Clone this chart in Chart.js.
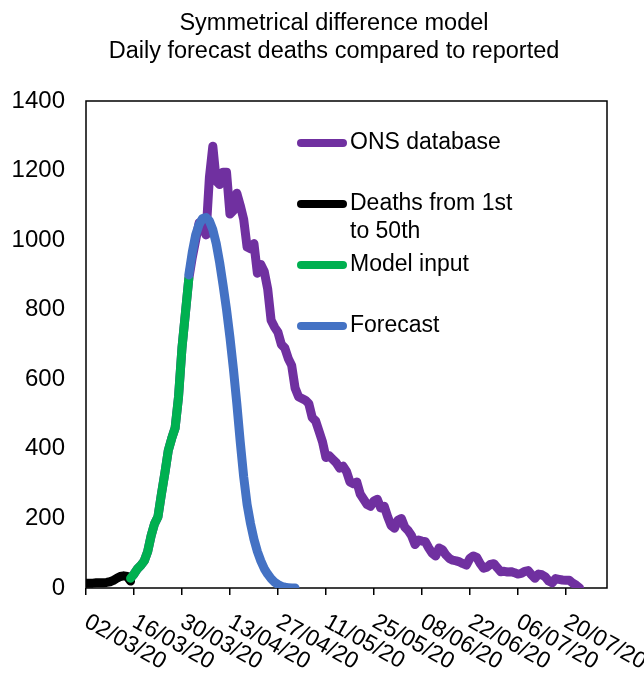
<!DOCTYPE html>
<html>
<head>
<meta charset="utf-8">
<script src="https://cdn.jsdelivr.net/npm/chart.js@4.4.1/dist/chart.umd.min.js"></script>
<style>
  body { margin: 0; background: #fff; }
</style>
</head>
<body>
<canvas id="myChart" width="644" height="673"></canvas>
<script>
var titleLines = ['Symmetrical difference model', 'Daily forecast deaths compared to reported'];
var tickLabels = ['02/03/20', '16/03/20', '30/03/20', '13/04/20', '27/04/20', '11/05/20',
                  '25/05/20', '08/06/20', '22/06/20', '06/07/20', '20/07/20'];
var axisEnd = '01/08/20';

// daily deaths, each series starts on the given date
var onsStart = '15/03/20';
var onsDeaths = [
  28, 40, 55, 65, 78, 105, 150, 185, 205, 270, 330, 395, 430, 460, 550, 690, 790, 890,
  950, 1000, 1050, 1040, 1015, 1180, 1270, 1170, 1160, 1195,
  1195, 1075, 1085, 1135, 1100, 1060, 980, 975, 990, 905,
  930, 910, 860, 770, 750, 735, 700, 690, 660, 640,
  575, 550, 545, 540, 530, 490, 480, 450, 420, 375,
  380, 370, 360, 345, 350, 335, 305, 300, 305, 270,
  255, 240, 235, 250, 255, 230, 235, 205, 180, 172,
  195, 200, 175, 165, 150, 125, 138, 135, 133, 115,
  100, 92, 115, 110, 95, 85, 80, 78, 75, 70,
  66, 85, 92, 88, 70, 57, 60, 68, 70, 58,
  47, 48, 46, 47, 44, 40, 42, 48, 50, 38,
  28, 40, 38, 32, 20, 15, 27, 25, 23, 22,
  22, 14, 8, 0
];
var firstStart = '02/03/20';
var firstDeaths = [14, 14, 14, 15, 15, 15, 16, 18, 22, 28, 33, 35, 33, 20];
var inputStart = '15/03/20';
var inputDeaths = [28, 40, 55, 65, 78, 105, 150, 185, 205, 270, 330, 395, 430, 460, 550, 690, 790, 890];
var forecastStart = '01/04/20';
var forecastDeaths = [
  900, 965, 1015, 1045, 1062, 1065, 1055, 1030, 990, 935,
  870, 800, 720, 630, 530, 420, 320, 240, 185, 140,
  105, 78, 56, 40, 27, 17, 10, 5, 2, 1, 0, 0
];
var legendLines = [['ONS database'], ['Deaths from 1st', 'to 50th'], ['Model input'], ['Forecast']];

var FONT = '"Liberation Sans", Arial, sans-serif';

function dayOf(s) {
  var p = s.split('/');
  var d = new Date(2000 + Number(p[2]), Number(p[1]) - 1, Number(p[0]));
  return Math.round((d - new Date(2020, 2, 2)) / 86400000);
}

function points(start, vals) {
  var s = dayOf(start);
  return vals.map(function (v, i) { return { x: s + i, y: v }; });
}

var chartDecor = {
  id: 'chartDecor',
  beforeDatasetsDraw: function (chart) {
    var ctx = chart.ctx, a = chart.chartArea;
    ctx.save();
    ctx.strokeStyle = '#000';
    ctx.lineWidth = 1.5;
    ctx.strokeRect(a.left, a.top, a.right - a.left, a.bottom - a.top);
    ctx.restore();
  },
  afterDraw: function (chart) {
    var ctx = chart.ctx, a = chart.chartArea;
    var xs = chart.scales.x;
    ctx.save();
    ctx.fillStyle = '#000';

    // title
    ctx.font = '23.5px ' + FONT;
    ctx.textAlign = 'center';
    ctx.textBaseline = 'alphabetic';
    ctx.fillText(titleLines[0], 334, 30);
    ctx.fillText(titleLines[1], 334, 58);

    // rotated date labels
    ctx.font = '23px ' + FONT;
    ctx.textAlign = 'left';
    tickLabels.forEach(function (l) {
      var x = xs.getPixelForValue(dayOf(l));
      ctx.save();
      ctx.translate(x - 3, a.bottom + 38);
      ctx.rotate(29 * Math.PI / 180);
      ctx.fillText(l, 0, 0);
      ctx.restore();
    });

    // legend
    var rows = [143, 204, 265, 326];
    chart.data.datasets.forEach(function (ds, i) {
      var y = rows[i];
      ctx.strokeStyle = ds.borderColor;
      ctx.lineWidth = 8;
      ctx.lineCap = 'round';
      ctx.beginPath();
      ctx.moveTo(301, y);
      ctx.lineTo(343, y);
      ctx.stroke();
      ctx.textBaseline = 'middle';
      legendLines[i].forEach(function (t, j) {
        ctx.fillText(t, 350, y + j * 28);
      });
    });
    ctx.restore();
  }
};

var ctx = document.getElementById('myChart').getContext('2d');
var myChart = new Chart(ctx, {
  type: 'line',
  data: {
    datasets: [
      { label: 'ONS database', data: points(onsStart, onsDeaths), borderColor: '#7030A0', order: 4 },
      { label: 'Deaths from 1st to 50th', data: points(firstStart, firstDeaths), borderColor: '#000000', order: 3 },
      { label: 'Model input', data: points(inputStart, inputDeaths), borderColor: '#00B050', order: 2 },
      { label: 'Forecast', data: points(forecastStart, forecastDeaths), borderColor: '#4472C4', order: 1 }
    ]
  },
  options: {
    responsive: false,
    animation: false,
    datasets: {
      line: {
        borderWidth: 9,
        pointRadius: 0,
        tension: 0,
        fill: false,
        borderCapStyle: 'round',
        borderJoinStyle: 'round'
      }
    },
    layout: { padding: { top: 101, right: 37, left: 0, bottom: 0 } },
    plugins: {
      legend: { display: false },
      title: { display: false },
      tooltip: { enabled: false }
    },
    scales: {
      x: {
        type: 'linear',
        min: 0,
        max: dayOf(axisEnd),
        afterBuildTicks: function (scale) {
          scale.ticks = tickLabels.map(function (l) { return { value: dayOf(l) }; });
        },
        afterFit: function (scale) { scale.height = 85; },
        ticks: { display: false },
        grid: { drawOnChartArea: false, drawTicks: true, tickLength: 7, color: '#000', lineWidth: 1.5 },
        border: { display: false }
      },
      y: {
        min: 0,
        max: 1400,
        afterFit: function (scale) { scale.width = 86; },
        ticks: {
          stepSize: 200,
          padding: 21,
          color: '#000',
          font: { family: FONT, size: 24 },
          callback: function (v) { return String(v); }
        },
        grid: { display: false, drawTicks: false },
        border: { display: false }
      }
    }
  },
  plugins: [chartDecor]
});
</script>
</body>
</html>
